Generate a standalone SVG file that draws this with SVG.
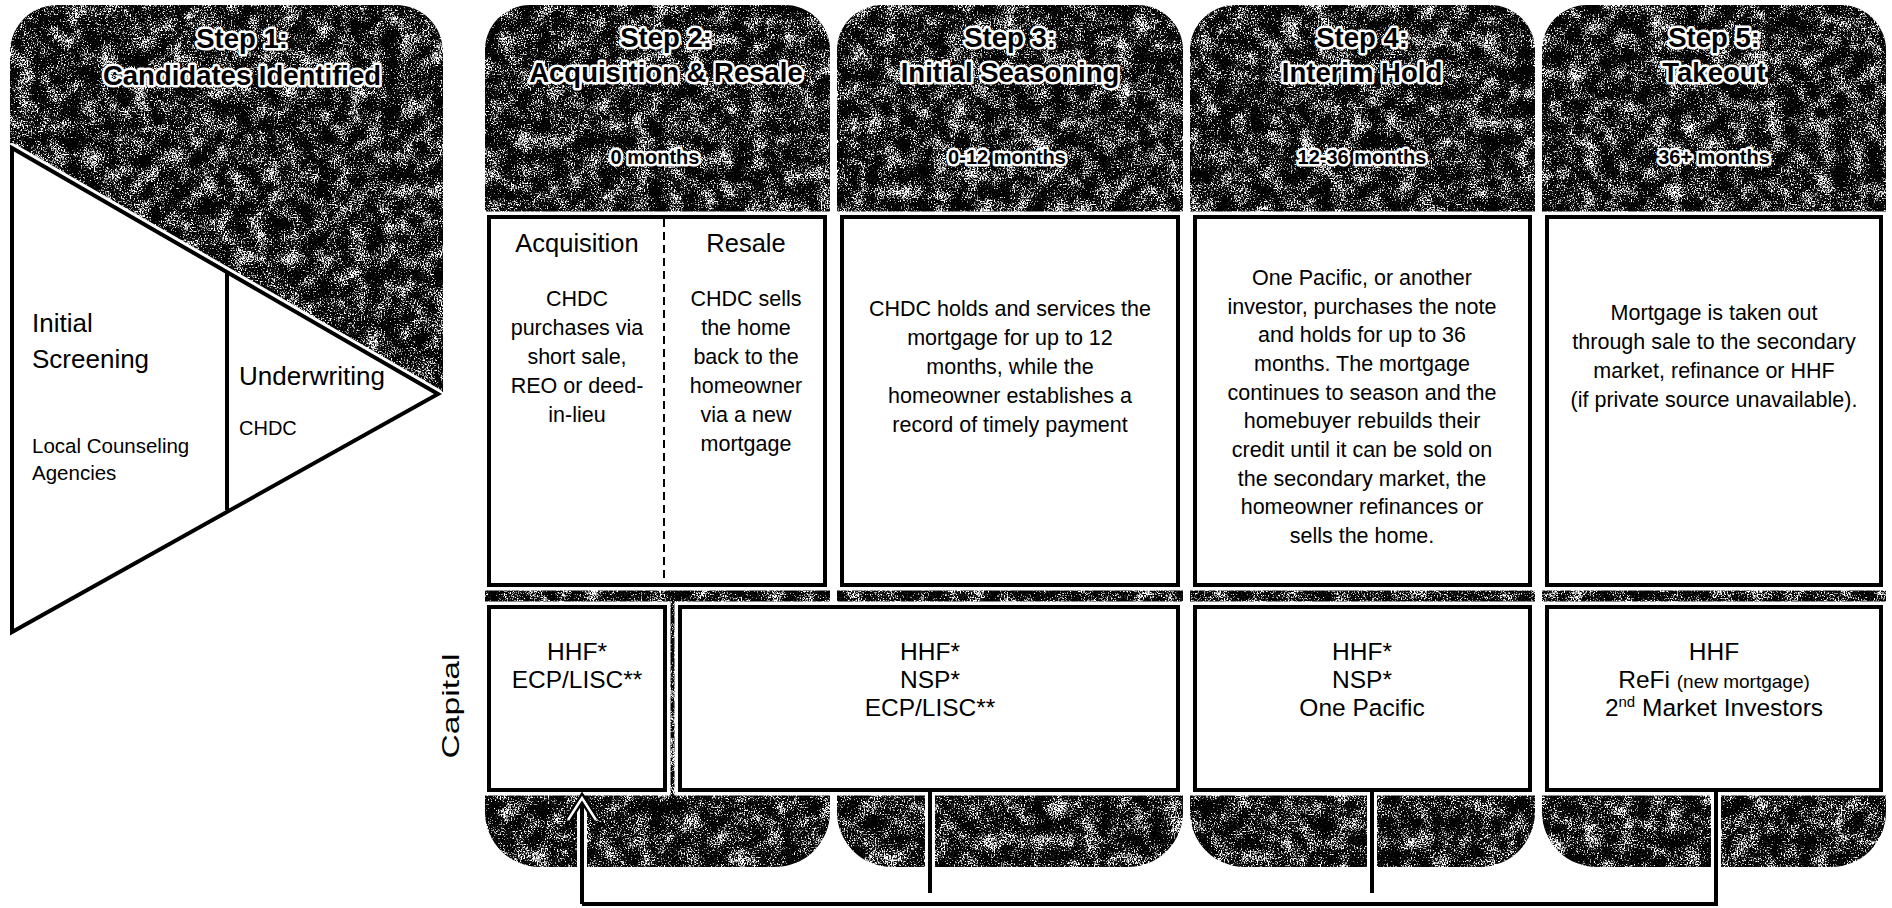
<svg xmlns="http://www.w3.org/2000/svg" width="1892" height="908" viewBox="0 0 1892 908">
<defs>
  <filter id="tex" x="0" y="0" width="1" height="1" color-interpolation-filters="sRGB">
    <feTurbulence type="fractalNoise" baseFrequency="0.7" numOctaves="2" seed="3" result="f0"/>
    <feColorMatrix in="f0" type="matrix" values="1 0 0 0 0  1 0 0 0 0  1 0 0 0 0  0 0 0 0 1" result="f"/>
    <feTurbulence type="fractalNoise" baseFrequency="0.06" numOctaves="3" seed="11" result="c0"/>
    <feColorMatrix in="c0" type="matrix" values="0 1 0 0 0  0 1 0 0 0  0 1 0 0 0  0 0 0 0 1" result="c"/>
    <feComposite in="f" in2="c" operator="arithmetic" k1="0" k2="1" k3="0.6" k4="-0.3" result="m"/>
    <feComponentTransfer in="m" result="d">
      <feFuncR type="discrete" tableValues="0 0 0 0 0 0.12 0.6 1 1 1"/>
      <feFuncG type="discrete" tableValues="0 0 0 0 0 0.12 0.6 1 1 1"/>
      <feFuncB type="discrete" tableValues="0 0 0 0 0 0.12 0.6 1 1 1"/>
    </feComponentTransfer>
    <feComposite in="d" in2="SourceGraphic" operator="in"/>
  </filter>
  <marker id="chev" viewBox="-32 -22 38 44" refX="0" refY="0" markerWidth="38" markerHeight="44" markerUnits="userSpaceOnUse" orient="auto">
    <path d="M-22,-14 L0,0 L-22,14" fill="none" stroke="#000" stroke-width="7"/>
    <path d="M-22,-14 L0,0 L-22,14" fill="none" stroke="#fff" stroke-width="2.5"/>
  </marker>
</defs>
<style>
  .ttl{font-family:"Liberation Sans",Arial,sans-serif;font-weight:bold;font-size:27.5px;fill:#000;stroke:#fff;stroke-width:5px;stroke-linejoin:round;paint-order:stroke;text-anchor:middle}
  .mon{font-size:20px}
  .box{fill:#fff;stroke:#000;stroke-width:4}
  .halo{fill:none;stroke:#fff;stroke-width:11}
  .t{font-family:"Liberation Sans",Arial,sans-serif;font-size:21.5px;fill:#000;text-anchor:middle}
  .l{text-anchor:start}
  .hd{font-size:25.5px}
  .cap{font-size:24.5px}
  .conn{fill:none;stroke:#000;stroke-width:4}
  .connh{fill:none;stroke:#fff;stroke-width:10}
</style>
<rect width="1892" height="908" fill="#fff"/>

<g id="step1">
  <path filter="url(#tex)" d="M10,52 A47,47 0 0 1 57,5 H396 A47,47 0 0 1 443,52 V392 H10 Z"/>
  <text class="ttl" x="242" y="48">Step 1:</text>
  <text class="ttl" x="242" y="85">Candidates Identified</text>
  <polygon points="12,148 438,394 12,632" fill="none" stroke="#fff" stroke-width="10" stroke-linejoin="round"/>
  <polygon points="12,148 438,394 12,632" fill="#fff" stroke="#000" stroke-width="4"/>
  <line x1="227" y1="272" x2="227" y2="510" stroke="#000" stroke-width="4"/>
  <text class="t l" x="32" y="332" style="font-size:26px">Initial</text>
  <text class="t l" x="32" y="368" style="font-size:26px">Screening</text>
  <text class="t l" x="32" y="453" style="font-size:20.5px">Local Counseling</text>
  <text class="t l" x="32" y="480" style="font-size:20.5px">Agencies</text>
  <text class="t l" x="239" y="385" style="font-size:26px">Underwriting</text>
  <text class="t l" x="239" y="435" style="font-size:20px">CHDC</text>
</g>

<g id="step2">
  <path filter="url(#tex)" d="M485,50 A45,45 0 0 1 530,5 H785 A45,45 0 0 1 830,50 V812 A55,55 0 0 1 775,867 H540 A55,55 0 0 1 485,812 Z"/>
  <text class="ttl" x="666" y="47">Step 2:</text>
  <text class="ttl" x="666" y="82">Acquisition &amp; Resale</text>
  <text class="ttl mon" x="655" y="164">0 months</text>
  <rect class="halo" x="489" y="217" width="336" height="368"/>
  <rect class="box" x="489" y="217" width="336" height="368"/>
  <line x1="664" y1="219" x2="664" y2="584" stroke="#000" stroke-width="2" stroke-dasharray="8 5"/>
  <text class="t hd" x="577" y="252">Acquisition</text>
  <text class="t hd" x="746" y="252">Resale</text>
  <text class="t" x="577" y="306">CHDC</text>
  <text class="t" x="577" y="335">purchases via</text>
  <text class="t" x="577" y="364">short sale,</text>
  <text class="t" x="577" y="393">REO or deed-</text>
  <text class="t" x="577" y="422">in-lieu</text>
  <text class="t" x="746" y="306">CHDC sells</text>
  <text class="t" x="746" y="335">the home</text>
  <text class="t" x="746" y="364">back to the</text>
  <text class="t" x="746" y="393">homeowner</text>
  <text class="t" x="746" y="422">via a new</text>
  <text class="t" x="746" y="451">mortgage</text>
</g>

<g id="step3">
  <path filter="url(#tex)" d="M837,50 A45,45 0 0 1 882,5 H1138 A45,45 0 0 1 1183,50 V812 A55,55 0 0 1 1128,867 H892 A55,55 0 0 1 837,812 Z"/>
  <text class="ttl" x="1010" y="47">Step 3:</text>
  <text class="ttl" x="1010" y="82">Initial Seasoning</text>
  <text class="ttl mon" x="1007" y="164">0-12 months</text>
  <rect class="halo" x="842" y="217" width="336" height="368"/>
  <rect class="box" x="842" y="217" width="336" height="368"/>
  <text class="t" x="1010" y="316">CHDC holds and services the</text>
  <text class="t" x="1010" y="345">mortgage for up to 12</text>
  <text class="t" x="1010" y="374">months, while the</text>
  <text class="t" x="1010" y="403">homeowner establishes a</text>
  <text class="t" x="1010" y="432">record of timely payment</text>
</g>

<g id="step4">
  <path filter="url(#tex)" d="M1190,50 A45,45 0 0 1 1235,5 H1490 A45,45 0 0 1 1535,50 V812 A55,55 0 0 1 1480,867 H1245 A55,55 0 0 1 1190,812 Z"/>
  <text class="ttl" x="1362" y="47">Step 4:</text>
  <text class="ttl" x="1362" y="82">Interim Hold</text>
  <text class="ttl mon" x="1362" y="164">12-36 months</text>
  <rect class="halo" x="1195" y="217" width="335" height="368"/>
  <rect class="box" x="1195" y="217" width="335" height="368"/>
  <text class="t" x="1362" y="285">One Pacific, or another</text>
  <text class="t" x="1362" y="314">investor, purchases the note</text>
  <text class="t" x="1362" y="342">and holds for up to 36</text>
  <text class="t" x="1362" y="371">months. The mortgage</text>
  <text class="t" x="1362" y="400">continues to season and the</text>
  <text class="t" x="1362" y="428">homebuyer rebuilds their</text>
  <text class="t" x="1362" y="457">credit until it can be sold on</text>
  <text class="t" x="1362" y="486">the secondary market, the</text>
  <text class="t" x="1362" y="514">homeowner refinances or</text>
  <text class="t" x="1362" y="543">sells the home.</text>
</g>

<g id="step5">
  <path filter="url(#tex)" d="M1542,50 A45,45 0 0 1 1587,5 H1841 A45,45 0 0 1 1886,50 V812 A55,55 0 0 1 1831,867 H1597 A55,55 0 0 1 1542,812 Z"/>
  <text class="ttl" x="1714" y="47">Step 5:</text>
  <text class="ttl" x="1714" y="82">Takeout</text>
  <text class="ttl mon" x="1714" y="164">36+ months</text>
  <rect class="halo" x="1547" y="217" width="334" height="368"/>
  <rect class="box" x="1547" y="217" width="334" height="368"/>
  <text class="t" x="1714" y="320">Mortgage is taken out</text>
  <text class="t" x="1714" y="349">through sale to the secondary</text>
  <text class="t" x="1714" y="378">market, refinance or HHF</text>
  <text class="t" x="1714" y="407">(if private source unavailable).</text>
</g>

<g id="capital-label">
  <text class="t" transform="translate(459,706) rotate(-90)" x="0" y="0" style="font-size:24px" textLength="105" lengthAdjust="spacingAndGlyphs">Capital</text>
</g>

<g id="capital-acquisition">
  <rect class="halo" x="489" y="607" width="176" height="183"/>
  <rect class="box" x="489" y="607" width="176" height="183"/>
  <text class="t cap" x="577" y="660">HHF*</text>
  <text class="t cap" x="577" y="688">ECP/LISC**</text>
</g>

<g id="capital-resale-seasoning">
  <rect class="halo" x="680" y="607" width="498" height="183"/>
  <rect class="box" x="680" y="607" width="498" height="183"/>
  <text class="t cap" x="930" y="660">HHF*</text>
  <text class="t cap" x="930" y="688">NSP*</text>
  <text class="t cap" x="930" y="716">ECP/LISC**</text>
</g>

<g id="capital-hold">
  <rect class="halo" x="1195" y="607" width="335" height="183"/>
  <rect class="box" x="1195" y="607" width="335" height="183"/>
  <text class="t cap" x="1362" y="660">HHF*</text>
  <text class="t cap" x="1362" y="688">NSP*</text>
  <text class="t cap" x="1362" y="716">One Pacific</text>
</g>

<g id="capital-takeout">
  <rect class="halo" x="1547" y="607" width="334" height="183"/>
  <rect class="box" x="1547" y="607" width="334" height="183"/>
  <text class="t cap" x="1714" y="660">HHF</text>
  <text class="t cap" x="1714" y="688">ReFi <tspan style="font-size:19px">(new mortgage)</tspan></text>
  <text class="t cap" x="1714" y="716">2<tspan style="font-size:15px" dy="-9">nd</tspan><tspan dy="9"> Market Investors</tspan></text>
</g>

<g id="connectors">
  <path class="connh" d="M930,792 V893 M1372,792 V893 M1716,792 V904 M582,800 V904"/>
  <path class="conn" d="M930,792 V893"/>
  <path class="conn" d="M1372,792 V893"/>
  <path class="conn" d="M1716,792 V904 H582"/>
  <path class="conn" d="M582,904 V798" marker-end="url(#chev)"/>
</g>
</svg>
